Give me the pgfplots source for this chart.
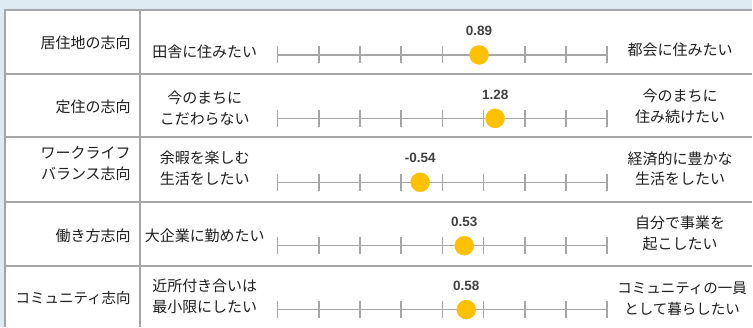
\documentclass[border=0pt]{standalone}
\usepackage{fontspec}
\usepackage{pgfplots}
\pgfplotsset{compat=1.18}
\setmainfont{Noto Sans CJK JP}
\newfontfamily\numfont{Liberation Sans}
\definecolor{bg}{RGB}{222,234,242}
\definecolor{gridc}{RGB}{166,166,166}
\definecolor{dotc}{RGB}{255,192,0}
\definecolor{txt}{RGB}{30,30,30}
\definecolor{numc}{RGB}{64,64,64}
\begin{document}
\begin{tikzpicture}
\begin{scope}[x=1bp,y=-1bp,shift={(0,-327)}]
\fill[bg] (0,0) rectangle (753,327);
\fill[white] (5,10) rectangle (753,327);
\begin{scope}[gridc, line width=2bp]
\draw (5,10) -- (753,10);
\draw (5,74) -- (753,74);
\draw (5,137.5) -- (753,137.5);
\draw (5,202) -- (753,202);
\draw (5,266) -- (753,266);
\draw (5,9) -- (5,327);
\draw (140,9) -- (140,327);
\end{scope}
\begin{scope}[every node/.style={inner sep=0pt, text=txt, font=\fontsize{15bp}{21bp}\selectfont}]
\node[anchor=east, align=right] at (131,43) {居住地の志向};
\node[anchor=east, align=right] at (131,107) {定住の志向};
\node[anchor=east, align=right] at (131,164) {ワークライフ\\バランス志向};
\node[anchor=east, align=right] at (131,236) {働き方志向};
\node[anchor=east, align=right, font=\fontsize{14.5bp}{21bp}\selectfont] at (131,298) {コミュニティ志向};
\node[align=center] at (205,52) {田舎に住みたい};
\node[align=center] at (205,108) {今のまちに\\こだわらない};
\node[align=center] at (205,169) {余暇を楽しむ\\生活をしたい};
\node[align=center] at (205,236) {大企業に勤めたい};
\node[align=center] at (205,297) {近所付き合いは\\最小限にしたい};
\node[align=center] at (681,50) {都会に住みたい};
\node[align=center] at (681,106) {今のまちに\\住み続けたい};
\node[align=center] at (681,169) {経済的に豊かな\\生活をしたい};
\node[align=center] at (681,234) {自分で事業を\\起こしたい};
\node[align=center, font=\fontsize{14.5bp}{21bp}\selectfont] at (683,299) {コミュニティの一員\\として暮らしたい};
\end{scope}
\end{scope}
\begin{axis}[at={(0,0)}, anchor=south west, width=753bp, height=327bp,
  scale only axis, hide axis, clip=false,
  xmin=-10.7394, xmax=7.5152, ymin=0, ymax=327, y dir=reverse]
% scale lines
\addplot[gridc, line width=1.5bp] coordinates {(-4,55) (4,55)};
\addplot[gridc, line width=1.5bp] coordinates {(-4,118.5) (4,118.5)};
\addplot[gridc, line width=1.5bp] coordinates {(-4,182.5) (4,182.5)};
\addplot[gridc, line width=1.5bp] coordinates {(-4,246) (4,246)};
\addplot[gridc, line width=1.5bp] coordinates {(-4,310) (4,310)};
% ticks
\addplot[gridc, only marks, mark=|, mark size=8.5bp, mark options={draw=gridc, line width=1.5bp}] coordinates {
(-4,55) (-3,55) (-2,55) (-1,55) (0,55) (1,55) (2,55) (3,55) (4,55)
(-4,118.5) (-3,118.5) (-2,118.5) (-1,118.5) (0,118.5) (1,118.5) (2,118.5) (3,118.5) (4,118.5)
(-4,182.5) (-3,182.5) (-2,182.5) (-1,182.5) (0,182.5) (1,182.5) (2,182.5) (3,182.5) (4,182.5)
(-4,246) (-3,246) (-2,246) (-1,246) (0,246) (1,246) (2,246) (3,246) (4,246)
(-4,310) (-3,310) (-2,310) (-1,310) (0,310) (1,310) (2,310) (3,310) (4,310)
};
% values
\addplot[dotc, only marks, mark=*, mark size=9.5bp, mark options={fill=dotc, draw=dotc},
  nodes near coords, point meta=explicit symbolic,
  every node near coord/.style={anchor=center, yshift=24bp, inner sep=0pt,
    font=\numfont\bfseries\fontsize{13.5bp}{13.5bp}\selectfont, text=numc}]
coordinates {
(0.89,55) [0.89]
(1.28,118.5) [1.28]
(-0.54,182.5) [-0.54]
(0.53,246) [0.53]
(0.58,310) [0.58]
};
\end{axis}
\end{tikzpicture}
\end{document}
